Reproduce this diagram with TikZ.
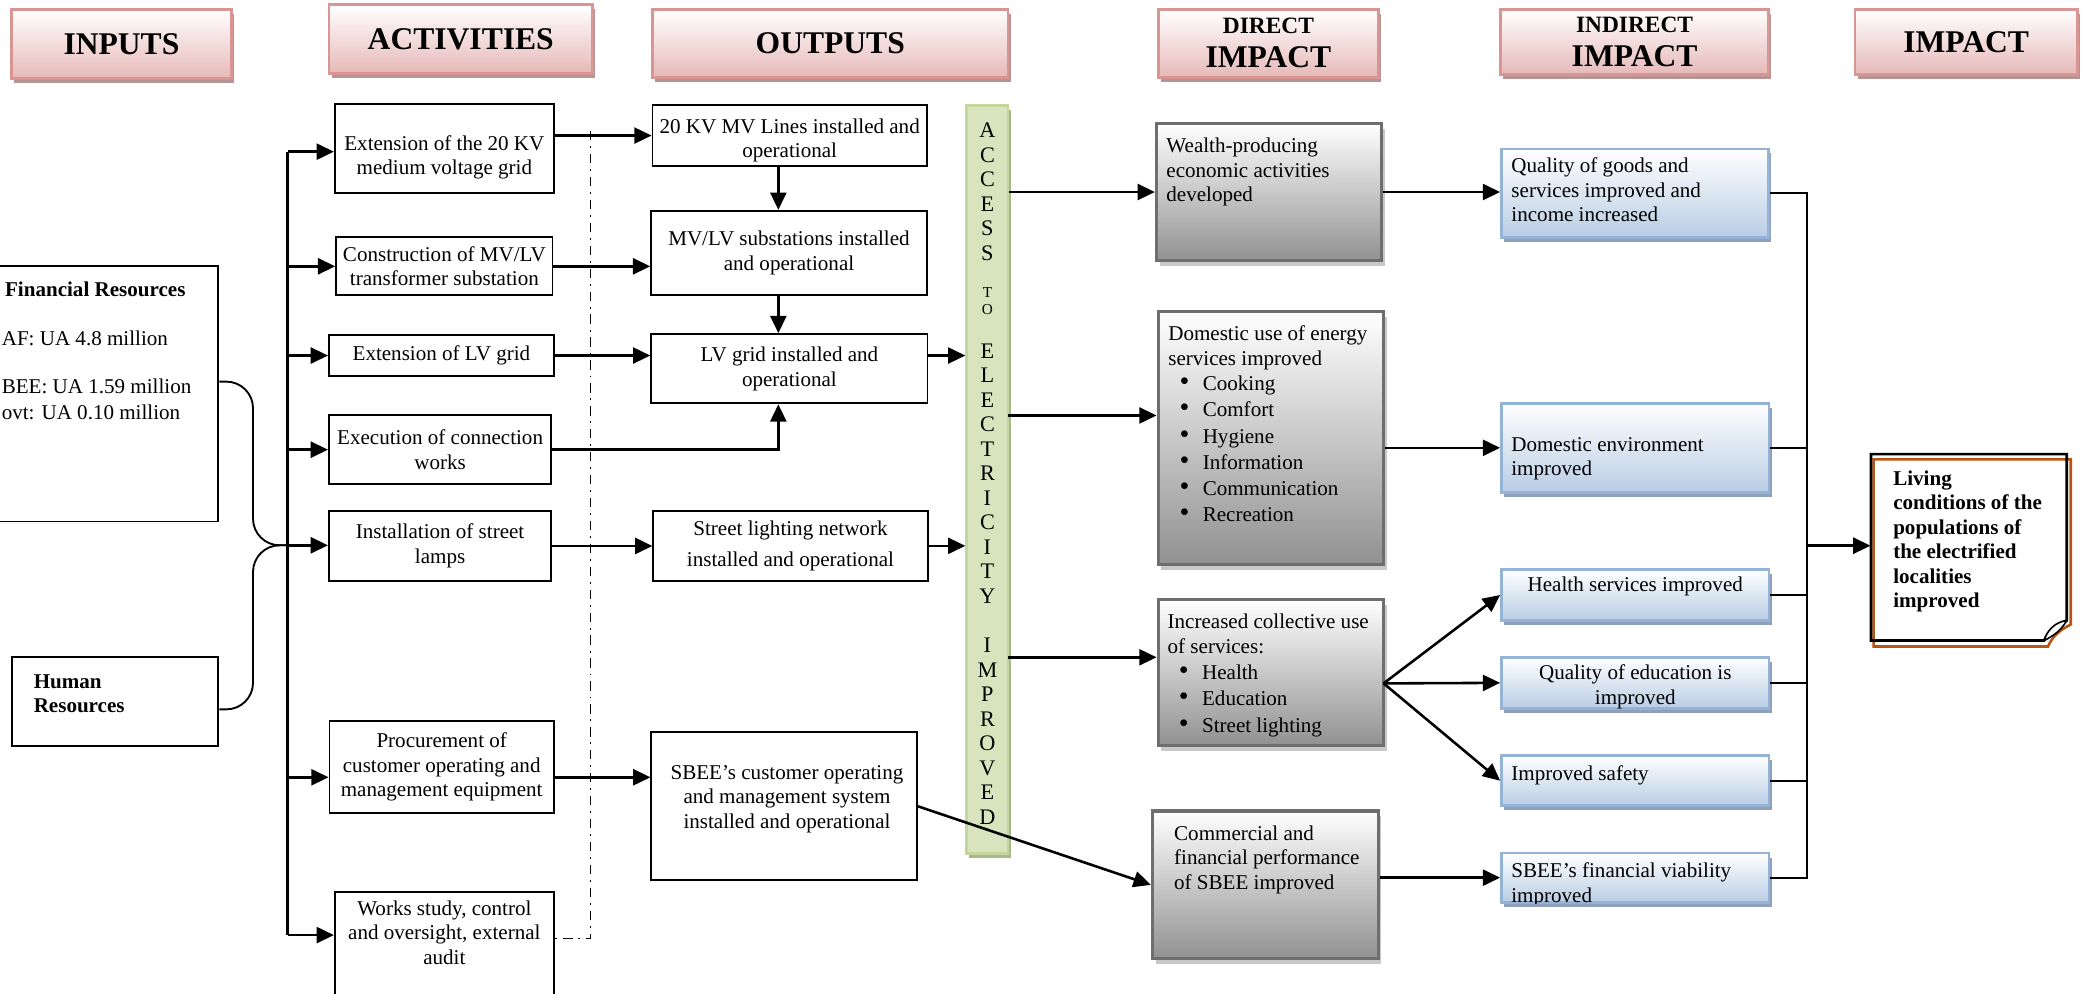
\documentclass[tikz,border=0pt]{standalone}
\usepackage{fontspec}
\setmainfont{Liberation Serif}
\usetikzlibrary{arrows.meta,shadows}

\definecolor{headpink}{RGB}{230,185,184}
\definecolor{headline}{RGB}{217,149,148}
\definecolor{headshadow}{RGB}{182,148,147}
\definecolor{dirgray}{RGB}{145,145,145}
\definecolor{dirline}{RGB}{110,110,110}
\definecolor{dirshadow}{RGB}{200,200,200}
\definecolor{indblue}{RGB}{185,205,229}
\definecolor{indline}{RGB}{149,179,215}
\definecolor{indshadow}{RGB}{142,160,186}
\definecolor{barfill}{RGB}{215,228,189}
\definecolor{barline}{RGB}{195,214,155}
\definecolor{barshadow}{RGB}{170,183,145}
\definecolor{foldorange}{RGB}{184,84,20}

\newcommand{\bodyfont}{\fontsize{9}{10.47}\selectfont}
\newcommand{\bulletitem}[1]{\hspace*{0.17cm}{\fontsize{12}{10.47}\selectfont\textbullet}\hspace{0.2cm}#1}

\tikzstyle{headblock} = [rectangle, draw=headline, line width=1.2pt, top color=white, bottom color=headpink, drop shadow={shadow xshift=0.04cm, shadow yshift=-0.07cm, fill=headshadow, opacity=1}, align=center, inner sep=0pt, font=\fontsize{13.5}{14.6}\selectfont\bfseries]
\tikzstyle{actblock} = [rectangle, draw=black, line width=0.8pt, fill=white, align=center, inner sep=0pt, font=\bodyfont]
\tikzstyle{dirblock} = [rectangle, draw=dirline, line width=1.3pt, top color=white, bottom color=dirgray, drop shadow={shadow xshift=0.05cm, shadow yshift=-0.08cm, fill=dirshadow, opacity=1}]
\tikzstyle{indblock} = [rectangle, draw=indline, line width=1.1pt, top color=white, bottom color=indblue, drop shadow={shadow xshift=0.04cm, shadow yshift=-0.07cm, fill=indshadow, opacity=1}]
\tikzstyle{boxtext} = [anchor=north west, align=left, inner sep=0pt, font=\bodyfont]
\tikzstyle{flow} = [-{Triangle[length=0.26cm,width=0.24cm]}, line width=1.1pt]
\tikzstyle{busline} = [-, line width=1.1pt]
\tikzstyle{braceline} = [-, line width=0.8pt, rounded corners=0.4cm]
\tikzstyle{thinline} = [-, line width=0.7pt]
\tikzstyle{dashdotline} = [-, line width=0.7pt, dash pattern=on 4pt off 2.5pt on 0.8pt off 2.5pt]

\begin{document}
\begin{tikzpicture}[x=0.02cm, y=-0.02cm]
    \useasboundingbox (0,0) rectangle (1568,746);
    \clip (0,0) rectangle (1568,746);

    % column headers
    \node (hInputs) [headblock, minimum width=3.31cm, minimum height=1.04cm] at (91.2,33) {INPUTS};
    \node (hActs) [headblock, minimum width=3.96cm, minimum height=1.03cm] at (346,29.3) {ACTIVITIES};
    \node (hOuts) [headblock, minimum width=5.34cm, minimum height=1.02cm] at (623.5,32.5) {OUTPUTS};
    \node (hDirect) [headblock, minimum width=3.3cm, minimum height=1.02cm] at (952.5,32.5) {{\fontsize{10}{10}\selectfont DIRECT}\\IMPACT};
    \node (hIndirect) [headblock, minimum width=4.02cm, minimum height=0.98cm] at (1227.5,31.5) {{\fontsize{10}{10}\selectfont INDIRECT}\\IMPACT};
    \node (hImpact) [headblock, minimum width=3.34cm, minimum height=0.98cm] at (1476.5,31.5) {IMPACT};

    % inputs
    \node (fin) [actblock, minimum width=3.68cm, minimum height=3.84cm] at (72,295.6) {};
    \node (finTxt) [boxtext] at (1,211.3) {\hspace*{0.05cm}\textbf{Financial Resources}\\[10.4pt]AF: UA 4.8 million\\[10pt]BEE: UA 1.59 million\\[0.9pt]ovt: UA 0.10 million};
    \node (hum) [actblock, minimum width=3.1cm, minimum height=1.33cm] at (86.5,526.7) {};
    \node (humTxt) [boxtext, font=\bodyfont\bfseries] at (25,506) {Human\\Resources};

    % activities
    \node (act1) [actblock, minimum width=3.29cm, minimum height=1.34cm] at (333.7,111.7) {};
    \node (act1Txt) [boxtext, anchor=north, align=center] at (333.7,101.5) {Extension of the 20 KV\\medium voltage grid};
    \node (act2) [actblock, minimum width=3.25cm, minimum height=0.87cm] at (333.7,200) {Construction of MV/LV\\transformer substation};
    \node (act3) [actblock, minimum width=3.38cm, minimum height=0.62cm] at (331.5,267) {Extension of LV grid};
    \node (act4) [actblock, minimum width=3.34cm, minimum height=1.04cm] at (330.5,337.7) {Execution of connection\\works};
    \node (act5) [actblock, minimum width=3.34cm, minimum height=1.04cm] at (330.5,410) {Installation of street\\lamps};
    \node (act6) [actblock, minimum width=3.37cm, minimum height=1.39cm] at (331.7,576) {Procurement of\\customer operating and\\management equipment};
    \node (act7) [actblock, anchor=north, minimum width=3.29cm, minimum height=2.2cm] at (333.7,669.4) {};
    \node (act7Txt) [boxtext, anchor=north, align=center] at (333.7,676) {Works study, control\\and oversight, external\\audit};

    % outputs
    \node (out1) [actblock, minimum width=4.12cm, minimum height=0.91cm] at (593,101.8) {};
    \node (out1Txt) [boxtext, anchor=north, align=center] at (593,88.8) {20 KV MV Lines installed and\\operational};
    \node (out2) [actblock, minimum width=4.14cm, minimum height=1.26cm] at (592.5,189.8) {MV/LV substations installed\\and operational};
    \node (out3) [actblock, minimum width=4.15cm, minimum height=1.04cm] at (592.8,276.9) {LV grid installed and\\operational};
    \node (out4) [actblock, minimum width=4.12cm, minimum height=1.05cm] at (593.6,409.9) {Street lighting network\\[3.1pt]installed and operational};
    \node (out5) [actblock, minimum width=3.99cm, minimum height=2.22cm] at (588.9,605.5) {};
    \node (out5Txt) [boxtext, anchor=north, align=center] at (591,574.3) {SBEE's customer operating\\and management system\\installed and operational};

    % access bar
    \node (bar) [rectangle, draw=barline, line width=1.2pt, fill=barfill, drop shadow={shadow xshift=0.04cm, shadow yshift=-0.06cm, fill=barshadow, opacity=1}, minimum width=0.62cm, minimum height=11.24cm] at (741.5,360.2) {};
    \node (barTxt) [anchor=north, align=center, inner sep=0pt, font=\fontsize{9.5}{10.47}\selectfont] at (741.5,92) {A\\C\\C\\E\\S\\S\\[5.5pt]{\fontsize{6.5}{7}\selectfont T}\\[-3pt]{\fontsize{6.5}{7}\selectfont O}\\[8.1pt]E\\L\\E\\C\\T\\R\\I\\C\\I\\T\\Y\\[10.6pt]I\\M\\P\\R\\O\\V\\E\\D};

    % direct impact
    \node (dir1) [dirblock, minimum width=3.38cm, minimum height=2.06cm] at (952.9,144.2) {};
    \node (dir1Txt) [boxtext] at (875.6,103.4) {Wealth-producing\\economic activities\\developed};
    \node (dir2) [dirblock, minimum width=3.39cm, minimum height=3.8cm] at (954.4,328.9) {};
    \node (dir2Txt) [boxtext] at (877,244.3) {Domestic use of energy\\services improved\\[0.5pt]\bulletitem{Cooking}\\[0.7pt]\bulletitem{Comfort}\\[0.7pt]\bulletitem{Hygiene}\\[0.7pt]\bulletitem{Information}\\[0.7pt]\bulletitem{Communication}\\[0.7pt]\bulletitem{Recreation}};
    \node (dir3) [dirblock, minimum width=3.39cm, minimum height=2.2cm] at (954.4,505.1) {};
    \node (dir3Txt) [boxtext] at (876.5,461) {Increased collective use\\of services:\\[0.5pt]\bulletitem{Health}\\[0.7pt]\bulletitem{Education}\\[1.2pt]\bulletitem{Street lighting}};
    \node (dir4) [dirblock, minimum width=3.39cm, minimum height=2.22cm] at (950.1,664.5) {};
    \node (dir4Txt) [boxtext] at (881.4,619.8) {Commercial and\\financial performance\\of SBEE improved};

    % indirect impact
    \node (ind1) [indblock, minimum width=4.01cm, minimum height=1.33cm] at (1227.7,145) {};
    \node (ind1Txt) [boxtext] at (1134.7,118.4) {Quality of goods and\\services improved and\\income increased};
    \node (ind2) [indblock, minimum width=4.02cm, minimum height=1.34cm] at (1228,336.3) {};
    \node (ind2Txt) [boxtext] at (1134.6,328.2) {Domestic environment\\improved};
    \node (ind3) [indblock, minimum width=4.02cm, minimum height=0.77cm] at (1228,446.8) {};
    \node (ind3Txt) [font=\bodyfont, inner sep=0pt] at (1228,440.6) {Health services improved};
    \node (ind4) [indblock, minimum width=4.02cm, minimum height=0.77cm] at (1228,512.8) {};
    \begin{scope}
        \clip (ind4.south west) rectangle (ind4.north east);
        \node (ind4Txt) [font=\bodyfont, align=center, inner sep=0pt] at (1228,515.7) {Quality of education is\\improved};
    \end{scope}
    \node (ind5) [indblock, minimum width=4.02cm, minimum height=0.75cm] at (1228,586.3) {};
    \node (ind5Txt) [boxtext] at (1134.6,574.3) {Improved safety};
    \node (ind6) [indblock, minimum width=4.02cm, minimum height=0.74cm] at (1228,659.1) {};
    \begin{scope}
        \clip (ind6.south west) rectangle (ind6.north east);
        \node (ind6Txt) [boxtext] at (1134.6,647.8) {SBEE's financial viability\\improved};
    \end{scope}

    % impact
    \node (final) [rectangle, minimum width=2.94cm, minimum height=2.8cm] at (1478.5,411) {};
    \draw [foldorange, line width=1.1pt] (1407,345) -- (1555,345) -- (1555,469) .. controls (1547,473) and (1541,478) .. (1538,485.5) -- (1407,485.5) -- cycle;
    \draw [black, line width=1.1pt] (1405,341) -- (1552,341) -- (1552,466) .. controls (1544,469) and (1538,474) .. (1535,481) -- (1405,481) -- cycle;
    \draw [black, line width=0.7pt, fill=white] (1552,466) .. controls (1548,473) and (1543,477) .. (1535,481) .. controls (1537,474) and (1543,467) .. (1552,466);
    \node (finalTxt) [boxtext, font=\bodyfont\bfseries] at (1421.4,353.2) {Living\\conditions of the\\populations of\\the electrified\\localities\\improved};

    % connectors, inputs side
    \coordinate (join) at (216,409.5);
    \coordinate (busTop) at (216,113.9);
    \coordinate (a6) at (216,583.7);
    \coordinate (a7) at (216,702.2);
    \coordinate (vaxis) at (584.5,0);
    \coordinate (ddTop) at (443.5,98.4);
    \coordinate (ddBot) at (443.5,704.7);
    \draw [braceline] ([yshift=0.18cm]fin.east) -| ([xshift=-0.52cm]join) -- (join);
    \draw [braceline] ([yshift=-0.12cm]hum.east) -| ([xshift=-0.52cm]join) -- (join);
    \draw [busline] (busTop) -- (a7);
    \draw [dashdotline] (ddTop) -- (ddBot) -- (ddBot -| act7.east);

    \draw [flow] (busTop) -- (busTop -| act1.west);
    \draw [flow] (act2.west -| busTop) -- (act2.west);
    \draw [flow] (act3.west -| busTop) -- (act3.west);
    \draw [flow] (act4.west -| busTop) -- (act4.west);
    \draw [flow] (join) -- (join -| act5.west);
    \draw [flow] (a6) -- (a6 -| act6.west);
    \draw [flow] (a7) -- (a7 -| act7.west);

    \draw [flow] (out1.west -| act1.east) -- (out1.west);
    \draw [flow] (act2.east) -- (act2.east -| out2.west);
    \draw [flow] (act3.east) -- (act3.east -| out3.west);
    \draw [flow] (act4.east) -| (out3.south -| vaxis);
    \draw [flow] (act5.east) -- (act5.east -| out4.west);
    \draw [flow] (a6 -| act6.east) -- (a6 -| out5.west);
    \draw [flow] (out1.south -| vaxis) -- (out2.north -| vaxis);
    \draw [flow] (out2.south -| vaxis) -- (out3.north -| vaxis);

    \draw [flow] (out3.east |- act3.east) -- (bar.west |- act3.east);
    \draw [flow] (out4.east) -- (out4.east -| bar.west);

    % connectors, impact side
    \coordinate (e2) at (757,312);
    \coordinate (e3) at (757,493.6);
    \coordinate (fan) at (1039,513.2);
    \coordinate (rbus) at (1357,409.8);
    \draw [flow] (dir1.west -| bar.east) -- (dir1.west);
    \draw [flow] (e2) -- (e2 -| dir2.west);
    \draw [flow] (e3) -- (e3 -| dir3.west);
    \draw [flow] (out5.east) -- (dir4.west);

    \draw [flow] (dir1.east) -- (dir1.east -| ind1.west);
    \draw [flow] (ind2.west -| dir2.east) -- (ind2.west);
    \draw [flow] (fan) -- (ind3.west);
    \draw [flow] (fan) -- (ind4.west);
    \draw [flow] (fan) -- (ind5.west);
    \draw [flow] (ind6.west -| dir4.east) -- (ind6.west);

    \draw [thinline] (ind1.east) -- (ind1.east -| rbus) -- (ind6.east -| rbus) -- (ind6.east);
    \draw [thinline] (ind2.east) -- (ind2.east -| rbus);
    \draw [thinline] (ind3.east) -- (ind3.east -| rbus);
    \draw [thinline] (ind4.east) -- (ind4.east -| rbus);
    \draw [thinline] (ind5.east) -- (ind5.east -| rbus);
    \draw [flow] (rbus) -- (rbus -| final.west);
\end{tikzpicture}
\end{document}
